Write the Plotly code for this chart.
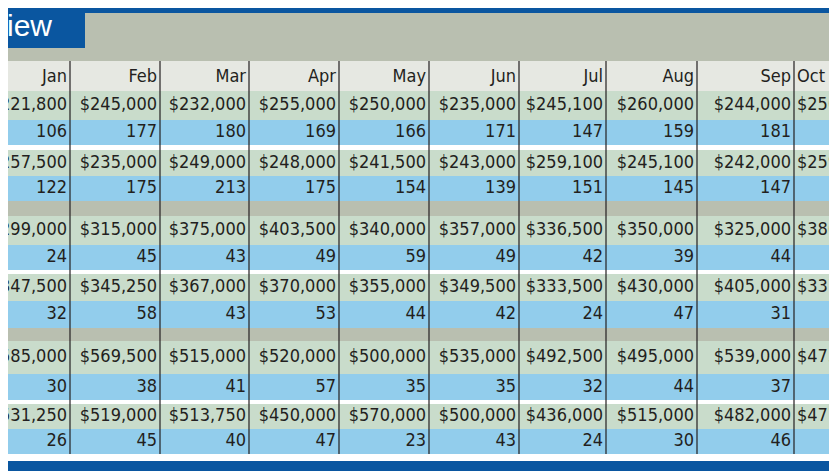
import plotly.graph_objects as go

W, H = 837, 471

months = ["Jan", "Feb", "Mar", "Apr", "May", "Jun", "Jul", "Aug", "Sep", "Oct"]

price_rows = [
    ["$221,800", "$245,000", "$232,000", "$255,000", "$250,000", "$235,000", "$245,100", "$260,000", "$244,000", "$250,000"],
    ["$257,500", "$235,000", "$249,000", "$248,000", "$241,500", "$243,000", "$259,100", "$245,100", "$242,000", "$259,000"],
    ["$299,000", "$315,000", "$375,000", "$403,500", "$340,000", "$357,000", "$336,500", "$350,000", "$325,000", "$380,000"],
    ["$347,500", "$345,250", "$367,000", "$370,000", "$355,000", "$349,500", "$333,500", "$430,000", "$405,000", "$337,000"],
    ["$585,000", "$569,500", "$515,000", "$520,000", "$500,000", "$535,000", "$492,500", "$495,000", "$539,000", "$475,000"],
    ["$531,250", "$519,000", "$513,750", "$450,000", "$570,000", "$500,000", "$436,000", "$515,000", "$482,000", "$477,000"],
]
count_rows = [
    [106, 177, 180, 169, 166, 171, 147, 159, 181, None],
    [122, 175, 213, 175, 154, 139, 151, 145, 147, None],
    [24, 45, 43, 49, 59, 49, 42, 39, 44, None],
    [32, 58, 43, 53, 44, 42, 24, 47, 31, None],
    [30, 38, 41, 57, 35, 35, 32, 44, 37, None],
    [26, 45, 40, 47, 23, 43, 24, 30, 46, None],
]

# layout geometry (pixels)
col_edges = [-30, 62, 152, 241, 331, 421, 511, 598, 689, 786, 880]
price_bands = [(83, 112), (142, 168), (208, 237), (266, 293), (333, 366), (396, 421)]
count_bands = [(112, 137), (168, 193), (237, 262), (293, 320), (366, 392), (421, 446)]
header_band = (53, 83)

BLUE = "#0a56a0"
PHOTO = "#b9bfb0"
GREEN = "#c9dccb"
SKY = "#92cdec"
INK = "#231f20"
FONT = "DejaVu Sans Condensed, Liberation Sans Narrow, sans-serif"

shapes = []
def rect(x0, y0, x1, y1, color):
    shapes.append(dict(type="rect", x0=x0, x1=x1, y0=y0, y1=y1, fillcolor=color,
                       line=dict(width=0), layer="below"))

rect(0, 0, W, 453, "white")
rect(0, 4, W, 53, PHOTO)
rect(0, 0, W, 5, BLUE)
rect(0, 0, 77, 40, BLUE)
rect(0, header_band[0], W, header_band[1], "#e6e8e2")
rect(0, 193, W, 208, PHOTO)
rect(0, 320, W, 333, PHOTO)
for y0, y1 in price_bands:
    rect(0, y0, W, y1, GREEN)
for y0, y1 in count_bands:
    rect(0, y0, W, y1, SKY)
rect(0, 453, W, 463, BLUE)
for x in col_edges[1:-1]:
    shapes.append(dict(type="line", x0=x, x1=x, y0=header_band[0], y1=446,
                       line=dict(color=INK, width=1.2)))

fig = go.Figure()

def add_text(xs, ys, texts, anchor):
    fig.add_trace(go.Scatter(x=xs, y=ys, text=texts, mode="text", textposition=anchor,
                             textfont=dict(family=FONT, size=18, color=INK),
                             hoverinfo="skip", showlegend=False, cliponaxis=True))

last = len(months) - 1
def cell_x(i):
    return col_edges[i] + 3 if i == last else col_edges[i + 1] - 3

def anchor_of(i):
    return "middle right" if i == last else "middle left"

# header
for i, m in enumerate(months):
    add_text([cell_x(i)], [sum(header_band) / 2 + 1], [m], anchor_of(i))

for r in range(len(price_rows)):
    py = sum(price_bands[r]) / 2
    cy = sum(count_bands[r]) / 2
    for i in range(len(months)):
        add_text([cell_x(i)], [py], [price_rows[r][i]], anchor_of(i))
        if count_rows[r][i] is not None:
            add_text([cell_x(i)], [cy], [str(count_rows[r][i])], anchor_of(i))

fig.add_trace(go.Scatter(x=[-16], y=[20], text=["view"], mode="text", textposition="middle right",
                         textfont=dict(family="Liberation Sans, Arial, sans-serif", size=30, color="white"),
                         hoverinfo="skip", showlegend=False, cliponaxis=True))

fig.update_layout(
    width=W, height=H, margin=dict(l=0, r=0, t=0, b=0),
    paper_bgcolor="white", plot_bgcolor="white", shapes=shapes,
    xaxis=dict(range=[0, W], visible=False, fixedrange=True),
    yaxis=dict(range=[H, 0], visible=False, fixedrange=True),
)
fig.write_html("out.html")
